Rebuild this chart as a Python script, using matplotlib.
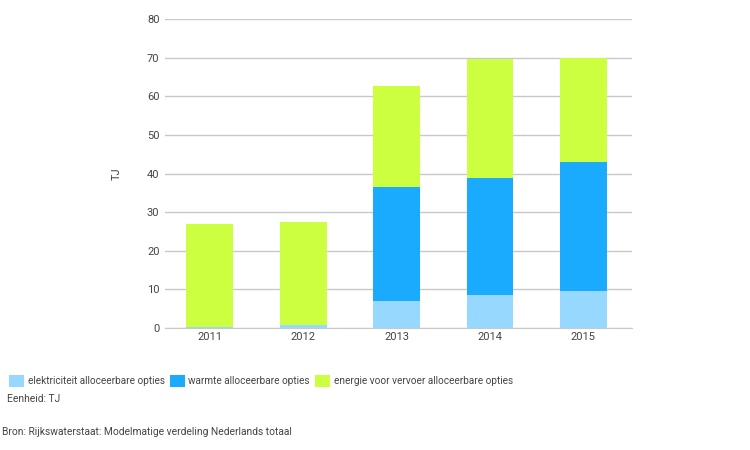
import matplotlib
matplotlib.use("Agg")
import matplotlib.pyplot as plt
import numpy as np

years = ["2011", "2012", "2013", "2014", "2015"]
elektriciteit = [0.35, 0.9, 7.1, 8.65, 9.7]
warmte = [0.0, 0.0, 29.3, 30.15, 33.2]
vervoer = [26.65, 26.45, 26.3, 30.8, 27.1]

labels = ["elektriciteit alloceerbare opties",
          "warmte alloceerbare opties",
          "energie voor vervoer alloceerbare opties"]
colors = ["#96d8ff", "#1aabff", "#ccff40"]

plt.rcParams["font.family"] = ["Roboto", "DejaVu Sans"]
plt.rcParams["font.size"] = 8
txtcol = "#444444"

fig = plt.figure(figsize=(7.5, 4.5), dpi=100)
ax = fig.add_axes([165 / 750, 1 - 328 / 450, 467 / 750, 309 / 450])

x = np.arange(len(years))
b1 = np.array(elektriciteit)
b2 = b1 + np.array(warmte)
ax.bar(x, elektriciteit, width=0.5, color=colors[0], label=labels[0], zorder=3)
ax.bar(x, warmte, width=0.5, bottom=b1, color=colors[1], label=labels[1], zorder=3)
ax.bar(x, vervoer, width=0.5, bottom=b2, color=colors[2], label=labels[2], zorder=3)

ax.set_xlim(-0.48, 4.52)
ax.set_ylim(0, 80)
ax.set_yticks(range(0, 81, 10))
ax.set_xticks(x)
ax.set_xticklabels(years)
ax.yaxis.grid(True, color="#c8c8c8", linewidth=1, zorder=0)
for s in ["top", "right", "left"]:
    ax.spines[s].set_visible(False)
ax.spines["bottom"].set_color("#c8c8c8")
ax.tick_params(axis="y", length=0, colors=txtcol, labelsize=8, pad=4)
ax.tick_params(axis="x", length=0, colors=txtcol, labelsize=8, pad=3)
ax.set_ylabel("TJ", color=txtcol, fontsize=8, labelpad=18)

fig.legend(loc="upper left", bbox_to_anchor=(0.006, 1 - 371 / 450), ncol=3,
           frameon=False, handlelength=1.5, handleheight=1.4, handletextpad=0.4,
           columnspacing=0.5, fontsize=7.2, labelcolor=txtcol, borderaxespad=0)
fig.text(7 / 750, 1 - 399 / 450, "Eenheid: TJ", fontsize=7.4, color=txtcol, va="center")
fig.text(2 / 750, 1 - 432 / 450, "Bron: Rijkswaterstaat: Modelmatige verdeling Nederlands totaal",
         fontsize=7.4, color=txtcol, va="center")

fig.savefig("out.png", dpi=100)
